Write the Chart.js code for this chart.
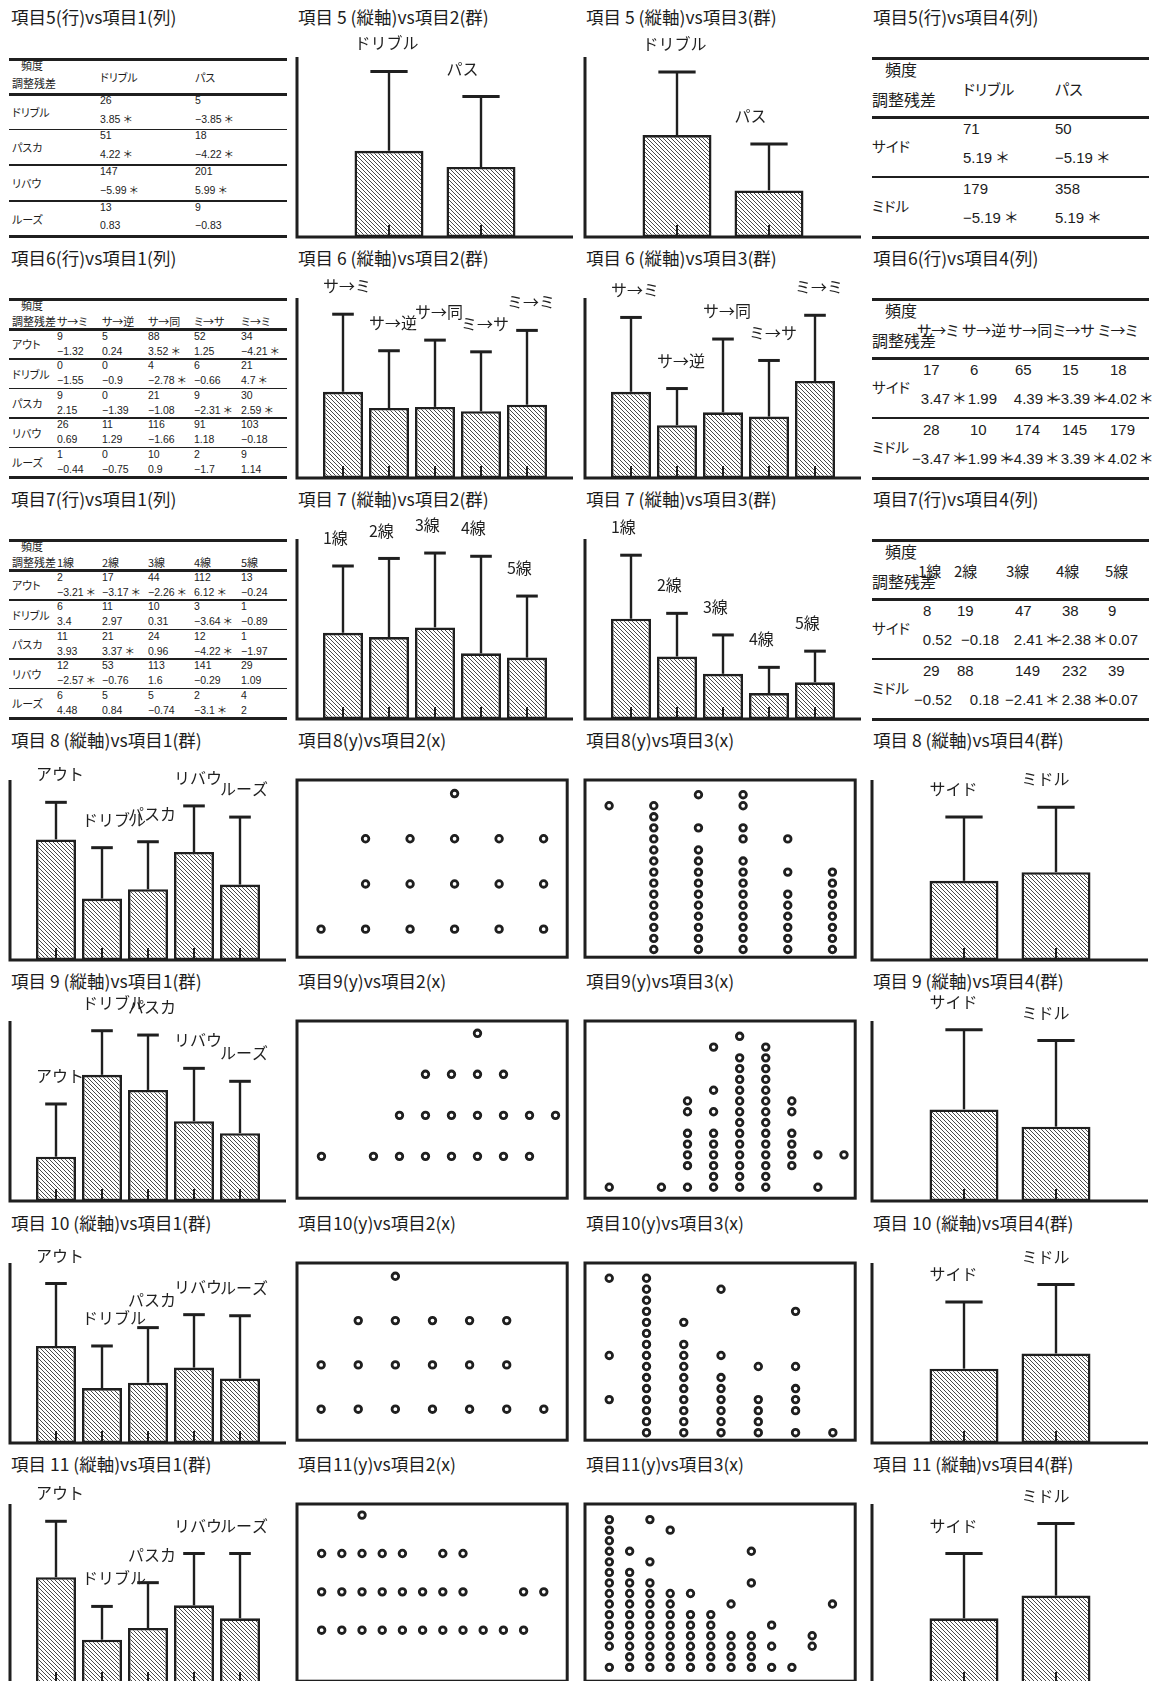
<!DOCTYPE html>
<html lang="ja">
<head>
<meta charset="utf-8">
<title>項目別クロス集計と平均値</title>
<script src="https://cdn.jsdelivr.net/npm/chart.js@4.4.1/dist/chart.umd.min.js"></script>
<style>
  html, body { margin: 0; padding: 0; background: #fff; }
  body { position: relative; width: 1158px; height: 1681px; overflow: hidden;
         font-family: "Noto Sans CJK JP", sans-serif; color: #1c1c1c; }
  .t { position: absolute; white-space: nowrap; line-height: 1; font-feature-settings: "palt"; }
  .num { font-family: "Liberation Sans", "Noto Sans CJK JP", sans-serif; }
  .rule { position: absolute; background: #1f1f1f; }
  canvas { position: absolute; }
</style>
</head>
<body>
<script>
// ===== カテゴリ =====
const item1Groups = ['アウト', 'ドリブル', 'パスカ', 'リバウ', 'ルーズ'];
const item4Groups = ['サイド', 'ミドル'];
const item5Groups = ['ドリブル', 'パス'];
const item6Groups = ['サ→ミ', 'サ→逆', 'サ→同', 'ミ→サ', 'ミ→ミ'];
const item7Groups = ['1線', '2線', '3線', '4線', '5線'];
const item5CrossRows = ['ドリブル', 'パスカ', 'リバウ', 'ルーズ'];

// ===== パネル見出し =====
const titles = [
  ['項目5(行)vs項目1(列)', '項目 5 (縦軸)vs項目2(群)', '項目 5 (縦軸)vs項目3(群)', '項目5(行)vs項目4(列)'],
  ['項目6(行)vs項目1(列)', '項目 6 (縦軸)vs項目2(群)', '項目 6 (縦軸)vs項目3(群)', '項目6(行)vs項目4(列)'],
  ['項目7(行)vs項目1(列)', '項目 7 (縦軸)vs項目2(群)', '項目 7 (縦軸)vs項目3(群)', '項目7(行)vs項目4(列)'],
  ['項目 8 (縦軸)vs項目1(群)', '項目8(y)vs項目2(x)', '項目8(y)vs項目3(x)', '項目 8 (縦軸)vs項目4(群)'],
  ['項目 9 (縦軸)vs項目1(群)', '項目9(y)vs項目2(x)', '項目9(y)vs項目3(x)', '項目 9 (縦軸)vs項目4(群)'],
  ['項目 10 (縦軸)vs項目1(群)', '項目10(y)vs項目2(x)', '項目10(y)vs項目3(x)', '項目 10 (縦軸)vs項目4(群)'],
  ['項目 11 (縦軸)vs項目1(群)', '項目11(y)vs項目2(x)', '項目11(y)vs項目3(x)', '項目 11 (縦軸)vs項目4(群)']
];

// ===== クロス集計: 頻度と調整残差 =====
const freq5x1 = [[26, 5], [51, 18], [147, 201], [13, 9]];
const resid5x1 = [['3.85 ＊', '−3.85 ＊'], ['4.22 ＊', '−4.22 ＊'], ['−5.99 ＊', '5.99 ＊'], ['0.83', '−0.83']];
const freq5x4 = [[71, 50], [179, 358]];
const resid5x4 = [['5.19 ＊', '−5.19 ＊'], ['−5.19 ＊', '5.19 ＊']];

const freq6x1 = [[9, 5, 88, 52, 34], [0, 0, 4, 6, 21], [9, 0, 21, 9, 30], [26, 11, 116, 91, 103], [1, 0, 10, 2, 9]];
const resid6x1 = [
  ['−1.32', '0.24', '3.52 ＊', '1.25', '−4.21 ＊'],
  ['−1.55', '−0.9', '−2.78 ＊', '−0.66', '4.7 ＊'],
  ['2.15', '−1.39', '−1.08', '−2.31 ＊', '2.59 ＊'],
  ['0.69', '1.29', '−1.66', '1.18', '−0.18'],
  ['−0.44', '−0.75', '0.9', '−1.7', '1.14']
];
const freq6x4 = [[17, 6, 65, 15, 18], [28, 10, 174, 145, 179]];
const resid6x4 = [['3.47 ＊', '1.99', '4.39 ＊', '−3.39 ＊', '−4.02 ＊'], ['−3.47 ＊', '−1.99 ＊', '−4.39 ＊', '3.39 ＊', '4.02 ＊']];

const freq7x1 = [[2, 17, 44, 112, 13], [6, 11, 10, 3, 1], [11, 21, 24, 12, 1], [12, 53, 113, 141, 29], [6, 5, 5, 2, 4]];
const resid7x1 = [
  ['−3.21 ＊', '−3.17 ＊', '−2.26 ＊', '6.12 ＊', '−0.24'],
  ['3.4', '2.97', '0.31', '−3.64 ＊', '−0.89'],
  ['3.93', '3.37 ＊', '0.96', '−4.22 ＊', '−1.97'],
  ['−2.57 ＊', '−0.76', '1.6', '−0.29', '1.09'],
  ['4.48', '0.84', '−0.74', '−3.1 ＊', '2']
];
const freq7x4 = [[8, 19, 47, 38, 9], [29, 88, 149, 232, 39]];
const resid7x4 = [['0.52', '−0.18', '2.41 ＊', '−2.38 ＊', '0.07'], ['−0.52', '0.18', '−2.41 ＊', '2.38 ＊', '−0.07']];

// ===== 群別の平均と標準偏差 (縦軸 0–10) =====
const mean5by2 = [4.79, 3.89],             sd5by2 = [4.41, 3.91];
const mean5by3 = [5.66, 2.59],             sd5by3 = [3.50, 2.57];
const mean6by2 = [4.79, 3.89, 3.95, 3.71, 4.07], sd6by2 = [4.31, 3.18, 3.71, 3.30, 4.13];
const mean6by3 = [4.79, 2.93, 3.65, 3.41, 5.39], sd6by3 = [4.13, 2.04, 4.07, 3.12, 3.65];
const mean7by2 = [4.79, 4.55, 5.09, 3.65, 3.41], sd7by2 = [3.71, 4.37, 4.13, 5.39, 3.42];
const mean7by3 = [5.57, 3.47, 2.51, 1.44, 2.04], sd7by3 = [3.53, 2.40, 2.16, 1.43, 1.73];
const mean8by1 = [6.70, 3.41, 3.93, 6.00, 4.19], sd8by1 = [2.06, 2.83, 2.64, 2.56, 3.75];
const mean8by4 = [4.40, 4.88],             sd8by4 = [3.55, 3.61];
const mean9by1 = [2.46, 7.01, 6.17, 4.43, 3.77], sd9by1 = [2.93, 2.45, 3.05, 2.94, 2.88];
const mean9by4 = [5.09, 4.13],             sd9by4 = [4.43, 4.79];
const mean10by1 = [5.39, 3.05, 3.35, 4.19, 3.59], sd10by1 = [3.47, 2.34, 3.06, 2.94, 3.48];
const mean10by4 = [4.13, 4.97],            sd10by4 = [3.71, 3.83];
const mean11by1 = [5.93, 2.46, 3.11, 4.37, 3.65], sd11by1 = [3.11, 1.85, 2.52, 2.88, 3.60];
const mean11by4 = [3.65, 4.91],            sd11by4 = [3.60, 4.01];

// ===== 散布図: x = 1, 2, ... の各値に対する y の値 =====
const item8ByItem2 = [[1], [1, 2, 3], [1, 2, 3], [1, 2, 3, 4], [1, 2, 3], [1, 2, 3]];
const item8ByItem3 = [
  [14],
  [1, 2, 3, 4, 5, 6, 7, 8, 9, 10, 11, 12, 13, 14],
  [1, 2, 3, 4, 5, 6, 7, 8, 9, 10, 12, 15],
  [1, 2, 3, 4, 5, 6, 7, 8, 9, 11, 12, 14, 15],
  [1, 2, 3, 4, 5, 6, 8, 11],
  [1, 2, 3, 4, 5, 6, 7, 8]
];
const item9ByItem2 = [[1], [], [1], [1, 2], [1, 2, 3], [1, 2, 3], [1, 2, 3, 4], [1, 2, 3], [1, 2], [2]];
const item9ByItem3 = [
  [1], [], [1],
  [1, 3, 4, 5, 6, 8, 9],
  [1, 2, 3, 4, 5, 6, 8, 10, 14],
  [1, 2, 3, 4, 5, 6, 7, 8, 9, 10, 11, 12, 13, 15],
  [1, 2, 3, 4, 5, 6, 7, 8, 9, 10, 11, 12, 13, 14],
  [3, 4, 5, 6, 8, 9],
  [1, 4],
  [4]
];
const item10ByItem2 = [[1, 2], [1, 2, 3], [1, 2, 3, 4], [1, 2, 3], [1, 2, 3], [1, 2, 3], [1]];
const item10ByItem3 = [
  [4, 8, 15],
  [1, 2, 3, 4, 5, 6, 7, 8, 9, 10, 11, 12, 13, 14, 15],
  [1, 2, 3, 4, 5, 6, 7, 8, 9, 11],
  [1, 2, 3, 4, 5, 6, 8, 14],
  [1, 2, 3, 4, 7],
  [1, 3, 4, 5, 7, 12],
  [1]
];
const item11ByItem2 = [[1, 2, 3], [1, 2, 3], [1, 2, 3, 4], [1, 2, 3], [1, 2, 3], [1, 2], [1, 2, 3], [1, 2, 3], [1], [1], [1, 2], [2]];
const item11ByItem3 = [
  [1, 3, 4, 5, 6, 7, 8, 9, 10, 11, 12, 13, 14, 15],
  [1, 2, 3, 4, 5, 6, 7, 8, 9, 10, 12],
  [1, 2, 3, 4, 5, 6, 7, 8, 9, 11, 15],
  [1, 2, 3, 4, 5, 6, 7, 8, 14],
  [1, 2, 3, 4, 5, 6, 8],
  [1, 2, 3, 4, 5, 6],
  [1, 2, 3, 4, 7],
  [1, 2, 3, 4, 9, 12],
  [1, 3, 5],
  [1],
  [3, 4],
  [7]
];

// ===== レイアウトと描画 =====
const INK = '#1f1f1f';
const CJK = '"Noto Sans CJK JP", sans-serif';
const COL_X = [0, 287, 575, 862];
const ROW_Y = [0, 241, 482, 723, 964, 1206, 1447];
const AREA_PAD = { left: 10, top: 31, right: 1, bottom: 4 };

function put(cls, text, x, y, size, alignRight) {
  const d = document.createElement('div');
  d.className = cls;
  d.textContent = text;
  d.style.left = x + 'px';
  d.style.top = y + 'px';
  d.style.fontSize = size + 'px';
  d.style.transform = 'translate(' + (alignRight ? '-100%' : '0') + ', -50%)';
  document.body.appendChild(d);
}

function rule(x0, x1, y, h) {
  const d = document.createElement('div');
  d.className = 'rule';
  d.style.left = x0 + 'px';
  d.style.width = (x1 - x0) + 'px';
  d.style.top = (y - h / 2) + 'px';
  d.style.height = h + 'px';
  document.body.appendChild(d);
}

function smallTable(c, r, rowNames, colNames, freq, resid, L) {
  const ox = COL_X[c], oy = ROW_Y[r];
  const n = rowNames.length;
  rule(ox + 9, ox + 287, oy + L.top, 3);
  rule(ox + 9, ox + 287, oy + L.head, 3);
  for (let i = 1; i < n; i++) rule(ox + 9, ox + 287, oy + L.head + i * L.rowH, 1.5);
  rule(ox + 9, ox + 287, oy + L.head + n * L.rowH, 3);
  put('t', '頻度', ox + 21, oy + L.c1, 11);
  put('t', '調整残差', ox + 12, oy + L.c2, 11);
  colNames.forEach((h, j) => put('t', h, ox + L.colX[j], oy + L.headY, 11));
  rowNames.forEach((name, i) => {
    const top = oy + L.head + i * L.rowH;
    put('t', name, ox + 12, top + L.rowH / 2, 11);
    colNames.forEach((_, j) => {
      put('t num', String(freq[i][j]), ox + L.colX[j], top + L.fY, 10.5);
      put('t num', resid[i][j], ox + L.colX[j], top + L.rY, 10.5);
    });
  });
}

function largeTable(c, r, rowNames, colNames, freq, resid, L) {
  const ox = COL_X[c], oy = ROW_Y[r];
  rule(ox + 10, ox + 287, oy + 58.5, 3);
  rule(ox + 10, ox + 287, oy + 117, 3);
  rule(ox + 10, ox + 287, oy + 177, 1.5);
  rule(ox + 10, ox + 287, oy + 237, 3);
  put('t', '頻度', ox + 23, oy + 68.5, 16);
  put('t', '調整残差', ox + 10, oy + 98.5, 16);
  colNames.forEach((h, j) => put('t', h, ox + L.headX[j], oy + 88, 15));
  rowNames.forEach((name, i) => {
    const top = oy + 117 + i * 60;
    put('t', name, ox + 10, top + 29, 14.5);
    colNames.forEach((_, j) => {
      put('t num', String(freq[i][j]), ox + L.freqX[j], top + 10.5, 15);
      if (L.residEnd) {
        const parts = resid[i][j].split(' ');
        put('t num', parts[0], ox + L.residEnd[j], top + 40, 15, true);
        if (parts[1]) put('t num', parts[1], ox + L.residEnd[j] + 3, top + 40, 15);
      } else {
        put('t num', resid[i][j], ox + L.freqX[j], top + 40, 15);
      }
    });
  });
}

function panelCanvas(c, r) {
  const cv = document.createElement('canvas');
  cv.width = 287;
  cv.height = 215;
  cv.style.left = COL_X[c] + 'px';
  cv.style.top = (ROW_Y[r] + 26) + 'px';
  document.body.appendChild(cv);
  return cv;
}

function hatchFor(ctx) {
  const tile = document.createElement('canvas');
  tile.width = 4;
  tile.height = 4;
  const g = tile.getContext('2d');
  g.fillStyle = '#ffffff';
  g.fillRect(0, 0, 4, 4);
  g.strokeStyle = '#4a4a4a';
  g.lineWidth = 1;
  g.beginPath();
  g.moveTo(-1, -1); g.lineTo(5, 5);
  g.moveTo(-1, 3); g.lineTo(1, 5);
  g.moveTo(3, -1); g.lineTo(5, 1);
  g.stroke();
  return ctx.createPattern(tile, 'repeat');
}

// 軸線・誤差線・群名・底辺の目盛り
const barMarks = {
  id: 'barMarks',
  afterDraw(chart, args, opts) {
    const { ctx, chartArea: a, scales: { y } } = chart;
    const bars = chart.getDatasetMeta(0).data;
    const values = chart.data.datasets[0].data;
    ctx.save();
    ctx.strokeStyle = INK;
    ctx.fillStyle = INK;
    ctx.lineWidth = 3;
    ctx.beginPath();
    ctx.moveTo(a.left, a.top);
    ctx.lineTo(a.left, a.bottom);
    ctx.lineTo(a.right, a.bottom);
    ctx.stroke();
    ctx.font = '16px ' + CJK;
    ctx.textAlign = 'left';
    ctx.textBaseline = 'middle';
    bars.forEach((bar, i) => {
      const top = y.getPixelForValue(values[i].y + opts.sds[i]);
      const half = bar.width / 2;
      ctx.lineWidth = 2.4;
      ctx.beginPath();
      ctx.moveTo(bar.x, bar.y);
      ctx.lineTo(bar.x, top);
      ctx.stroke();
      ctx.lineWidth = 3;
      ctx.beginPath();
      ctx.moveTo(bar.x - half * 0.54, top);
      ctx.lineTo(bar.x + half * 0.54, top);
      ctx.stroke();
      ctx.lineWidth = 2;
      ctx.beginPath();
      ctx.moveTo(bar.x, a.bottom);
      ctx.lineTo(bar.x, a.bottom - 12);
      ctx.stroke();
      ctx.fillText(opts.names[i], bar.x - half, top - 28);
    });
    ctx.restore();
  }
};

const framePlugin = {
  id: 'frameBox',
  afterDraw(chart) {
    const { ctx, chartArea: a } = chart;
    ctx.save();
    ctx.strokeStyle = INK;
    ctx.lineWidth = 3;
    ctx.strokeRect(a.left, a.top, a.right - a.left, a.bottom - a.top);
    ctx.restore();
  }
};

function barPanel(c, r, names, means, sds) {
  const cv = panelCanvas(c, r);
  const n = names.length;
  new Chart(cv, {
    type: 'bar',
    data: {
      datasets: [{
        data: means.map((v, i) => ({ x: i + 1, y: v })),
        backgroundColor: hatchFor(cv.getContext('2d')),
        borderColor: INK,
        borderWidth: 2.6,
        borderSkipped: false,
        categoryPercentage: 1,
        barPercentage: n === 2 ? 0.75 : 0.87
      }]
    },
    options: {
      responsive: false, animation: false, events: [], devicePixelRatio: 1,
      layout: { padding: AREA_PAD },
      scales: {
        x: { type: 'linear', min: 0, max: n + 1, offset: false, display: false, ticks: { stepSize: 1 } },
        y: { min: 0, max: 10, display: false }
      },
      plugins: { legend: { display: false }, tooltip: { enabled: false }, barMarks: { names, sds } }
    },
    plugins: [barMarks]
  });
}

function scatterPanel(c, r, columns, xr, yr) {
  const cv = panelCanvas(c, r);
  const pts = [];
  columns.forEach((ys, i) => ys.forEach(v => pts.push({ x: i + 1, y: v })));
  new Chart(cv, {
    type: 'scatter',
    data: {
      datasets: [{
        data: pts,
        pointRadius: 3.3,
        pointBorderWidth: 2.8,
        pointBackgroundColor: '#ffffff',
        pointBorderColor: INK
      }]
    },
    options: {
      responsive: false, animation: false, events: [], devicePixelRatio: 1,
      layout: { padding: AREA_PAD },
      scales: {
        x: { type: 'linear', min: xr[0], max: xr[1], display: false },
        y: { type: 'linear', min: yr[0], max: yr[1], display: false }
      },
      plugins: { legend: { display: false }, tooltip: { enabled: false } }
    },
    plugins: [framePlugin]
  });
}

// 見出し
titles.forEach((row, r) => row.forEach((t, c) => put('t', t, COL_X[c] + 11, ROW_Y[r] + 17, 17.5)));

// 1〜3 段目: クロス集計表と平均値
const L2col = { top: 59, head: 94, rowH: 35.6, c1: 65, c2: 83, headY: 77, colX: [100, 195], fY: 5.7, rY: 24.5 };
const L5col = { top: 58.5, head: 88.5, rowH: 29.5, c1: 64, c2: 79.5, headY: 79.5, colX: [57, 102, 148, 194, 241], fY: 6.4, rY: 21.4 };

smallTable(0, 0, item5CrossRows, item5Groups, freq5x1, resid5x1, L2col);
barPanel(1, 0, item5Groups, mean5by2, sd5by2);
barPanel(2, 0, item5Groups, mean5by3, sd5by3);
largeTable(3, 0, item4Groups, item5Groups, freq5x4, resid5x4, { headX: [101, 193], freqX: [101, 193] });

smallTable(0, 1, item1Groups, item6Groups, freq6x1, resid6x1, L5col);
barPanel(1, 1, item6Groups, mean6by2, sd6by2);
barPanel(2, 1, item6Groups, mean6by3, sd6by3);
largeTable(3, 1, item4Groups, item6Groups, freq6x4, resid6x4,
  { headX: [55, 100, 146, 191, 236], freqX: [61, 108, 153, 200, 248], residEnd: [88, 135, 181, 228, 275] });

smallTable(0, 2, item1Groups, item7Groups, freq7x1, resid7x1, L5col);
barPanel(1, 2, item7Groups, mean7by2, sd7by2);
barPanel(2, 2, item7Groups, mean7by3, sd7by3);
largeTable(3, 2, item4Groups, item7Groups, freq7x4, resid7x4,
  { headX: [56, 92, 144, 194, 243], freqX: [61, 95, 153, 200, 246], residEnd: [90, 137, 181, 229, 276] });

// 4〜7 段目: 平均値と散布図
barPanel(0, 3, item1Groups, mean8by1, sd8by1);
scatterPanel(1, 3, item8ByItem2, [0.46, 6.53], [0.38, 4.3]);
scatterPanel(2, 3, item8ByItem3, [0.46, 6.51], [0.3, 16.33]);
barPanel(3, 3, item4Groups, mean8by4, sd8by4);

barPanel(0, 4, item1Groups, mean9by1, sd9by1);
scatterPanel(1, 4, item9ByItem2, [0.06, 10.45], [-0.02, 4.3]);
scatterPanel(2, 4, item9ByItem3, [0.07, 10.43], [-0.02, 16.42]);
barPanel(3, 4, item4Groups, mean9by4, sd9by4);

barPanel(0, 5, item1Groups, mean10by1, sd10by1);
scatterPanel(1, 5, item10ByItem2, [0.35, 7.63], [0.3, 4.3]);
scatterPanel(2, 5, item10ByItem3, [0.35, 7.6], [0.32, 16.38]);
barPanel(3, 5, item4Groups, mean10by4, sd10by4);

barPanel(0, 6, item1Groups, mean11by1, sd11by1);
scatterPanel(1, 6, item11ByItem2, [-0.22, 13.16], [-0.33, 4.29]);
scatterPanel(2, 6, item11ByItem3, [-0.2, 13.12], [-0.31, 16.48]);
barPanel(3, 6, item4Groups, mean11by4, sd11by4);
</script>
</body>
</html>
